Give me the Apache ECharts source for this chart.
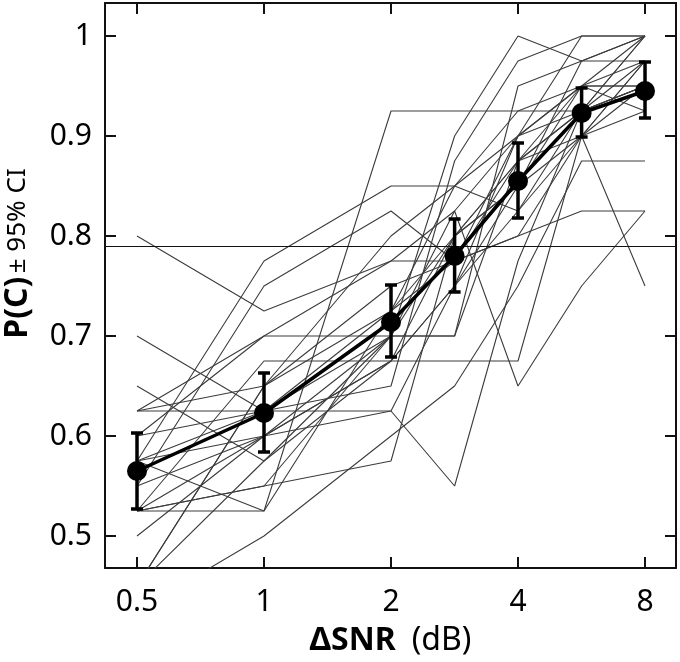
<!DOCTYPE html>
<html>
<head>
<meta charset="utf-8">
<script src="https://cdn.jsdelivr.net/npm/echarts@6/dist/echarts.min.js"></script>
<style>
html,body{margin:0;padding:0;background:#fff;}
#chart{width:680px;height:662px;}
</style>
</head>
<body>
<div id="chart"></div>
<script>
// ---- data ----
const xLevels = [0.5, 1, 2, 2.83, 4, 5.66, 8];      // ΔSNR (dB)
const xTickValues = [0.5, 1, 2, 4, 8];
const yTickValues = [0.5, 0.6, 0.7, 0.8, 0.9, 1.0];
const threshold = 0.79;

const meanPC = [0.565, 0.623, 0.714, 0.780, 0.855, 0.923, 0.945];
const ciLow  = [0.527, 0.584, 0.679, 0.744, 0.818, 0.899, 0.918];
const ciHigh = [0.603, 0.663, 0.751, 0.817, 0.893, 0.948, 0.974];

const s01 = [0.800, 0.725, 0.775, 0.825, 0.900, 0.950, 1.000];
const s02 = [0.700, 0.625, 0.650, 0.875, 0.975, 1.000, 1.000];
const s03 = [0.625, 0.625, 0.700, 0.700, 0.950, 0.975, 0.975];
const s04 = [0.600, 0.700, 0.700, 0.800, 0.875, 0.900, 0.950];
const s05 = [0.575, 0.775, 0.850, 0.850, 0.900, 1.000, 1.000];
const s06 = [0.550, 0.750, 0.825, 0.775, 0.800, 0.900, 0.975];
const s07 = [0.525, 0.525, 0.925, 0.925, 0.925, 0.950, 0.925];
const s08 = [0.525, 0.675, 0.675, 0.675, 0.675, 0.900, 0.975];
const s09 = [0.525, 0.550, 0.575, 0.800, 0.850, 0.975, 1.000];
const s10 = [0.500, 0.600, 0.675, 0.750, 0.850, 0.900, 0.750];
const s11 = [0.450, 0.650, 0.725, 0.850, 0.925, 0.925, 0.950];
const s12 = [0.425, 0.500, 0.600, 0.650, 0.750, 0.875, 0.875];
const s13 = [0.575, 0.525, 0.725, 0.775, 0.800, 0.825, 0.825];
const s14 = [0.550, 0.600, 0.675, 0.800, 0.850, 0.950, 0.950];
const s15 = [0.625, 0.700, 0.775, 0.775, 0.900, 0.950, 0.950];
const s16 = [0.450, 0.575, 0.700, 0.900, 1.000, 0.975, 1.000];
const s17 = [0.575, 0.625, 0.725, 0.800, 0.875, 0.925, 1.000];
const s18 = [0.525, 0.550, 0.700, 0.825, 0.650, 0.750, 0.825];
const s19 = [0.600, 0.625, 0.625, 0.550, 0.775, 0.925, 1.000];
const s20 = [0.575, 0.600, 0.700, 0.700, 0.875, 0.925, 0.975];
const s21 = [0.650, 0.575, 0.675, 0.750, 0.825, 0.900, 0.925];
const s22 = [0.450, 0.650, 0.750, 0.775, 0.875, 0.950, 0.975];
const s23 = [0.525, 0.600, 0.625, 0.750, 0.900, 0.925, 0.950];
const s24 = [0.625, 0.650, 0.800, 0.850, 0.825, 0.925, 0.950];
const subjects = [s01,s02,s03,s04,s05,s06,s07,s08,s09,s10,s11,s12,
                  s13,s14,s15,s16,s17,s18,s19,s20,s21,s22,s23,s24];

// ---- build chart ----
const lx = v => Math.log2(v);
const FONT = 'Noto Sans';

const subjectSeries = subjects.map((s, i) => ({
  type: 'line',
  name: 'S' + (i + 1),
  data: s.map((v, k) => [lx(xLevels[k]), v]),
  symbol: 'none',
  silent: true,
  lineStyle: { color: '#3c3c3c', width: 1.1 },
  z: 2
}));

const chart = echarts.init(document.getElementById('chart'), null, { renderer: 'canvas' });

const axisCommon = {
  axisLine: { show: true, onZero: false, lineStyle: { color: '#111', width: 2 } },
  axisTick: { show: true, inside: true, length: 11, lineStyle: { color: '#111', width: 2 } },
  splitLine: { show: false }
};

chart.setOption({
  animation: false,
  backgroundColor: '#fff',
  grid: { left: 105, right: 4, top: 3, bottom: 94, containLabel: false, outerBoundsMode: 'none' },
  xAxis: [
    Object.assign({}, axisCommon, {
      type: 'value', position: 'bottom',
      min: -1.252, max: 3.244,
      axisTick: Object.assign({}, axisCommon.axisTick, { customValues: xTickValues.map(lx) }),
      axisLabel: {
        customValues: xTickValues.map(lx),
        formatter: v => String(Math.round(Math.pow(2, v) * 10) / 10),
        fontFamily: FONT, fontSize: 30, color: '#000', margin: 19
      },
      name: '{b|ΔSNR}{r|(dB)}',
      nameLocation: 'middle', nameGap: 57,
      nameTextStyle: {
        rich: {
          b: { fontFamily: FONT, fontSize: 32, fontWeight: 'bold', color: '#000' },
          r: { fontFamily: FONT, fontSize: 32, color: '#000', padding: [0, 0, 0, 16] }
        }
      }
    }),
    Object.assign({}, axisCommon, {
      type: 'value', position: 'top',
      min: -1.252, max: 3.244,
      axisTick: Object.assign({}, axisCommon.axisTick, { customValues: xTickValues.map(lx) }),
      axisLabel: { show: false }
    })
  ],
  yAxis: [
    Object.assign({}, axisCommon, {
      type: 'value', position: 'left',
      min: 0.468, max: 1.033,
      axisTick: Object.assign({}, axisCommon.axisTick, { customValues: yTickValues }),
      axisLabel: {
        customValues: yTickValues,
        formatter: v => String(Math.round(v * 10) / 10),
        fontFamily: FONT, fontSize: 30, color: '#000', margin: 13
      },
      name: '{b|P(C)} {r|± 95% CI}',
      nameLocation: 'middle', nameGap: 71, nameRotate: 90,
      nameTextStyle: {
        padding: [0, 0, 0, 64],
        rich: {
          b: { fontFamily: FONT, fontSize: 32, fontWeight: 'bold', color: '#000' },
          r: { fontFamily: FONT, fontSize: 26, color: '#000' }
        }
      }
    }),
    Object.assign({}, axisCommon, {
      type: 'value', position: 'right',
      min: 0.468, max: 1.033,
      axisTick: Object.assign({}, axisCommon.axisTick, { customValues: yTickValues }),
      axisLabel: { show: false }
    })
  ],
  series: subjectSeries.concat([
    {
      type: 'line',
      name: 'threshold',
      data: [],
      markLine: {
        silent: true, symbol: 'none', label: { show: false },
        lineStyle: { color: '#111', width: 1, type: 'solid' },
        data: [{ yAxis: threshold }]
      },
      z: 3
    },
    {
      type: 'custom',
      name: 'CI',
      data: xLevels.map((x, k) => [lx(x), ciLow[k], ciHigh[k]]),
      renderItem: (params, api) => {
        const x = api.value(0);
        const lo = api.coord([x, api.value(1)]);
        const hi = api.coord([x, api.value(2)]);
        const cap = 6;
        const style = { stroke: '#000', lineWidth: 3.5, fill: null };
        return {
          type: 'group',
          children: [
            { type: 'line', shape: { x1: lo[0], y1: lo[1], x2: hi[0], y2: hi[1] }, style },
            { type: 'line', shape: { x1: lo[0] - cap, y1: lo[1], x2: lo[0] + cap, y2: lo[1] }, style },
            { type: 'line', shape: { x1: hi[0] - cap, y1: hi[1], x2: hi[0] + cap, y2: hi[1] }, style }
          ]
        };
      },
      z: 5
    },
    {
      type: 'line',
      name: 'mean',
      data: xLevels.map((x, k) => [lx(x), meanPC[k]]),
      symbol: 'circle', symbolSize: 20,
      itemStyle: { color: '#000' },
      lineStyle: { color: '#000', width: 3.5 },
      z: 6
    }
  ])
});
</script>
</body>
</html>
